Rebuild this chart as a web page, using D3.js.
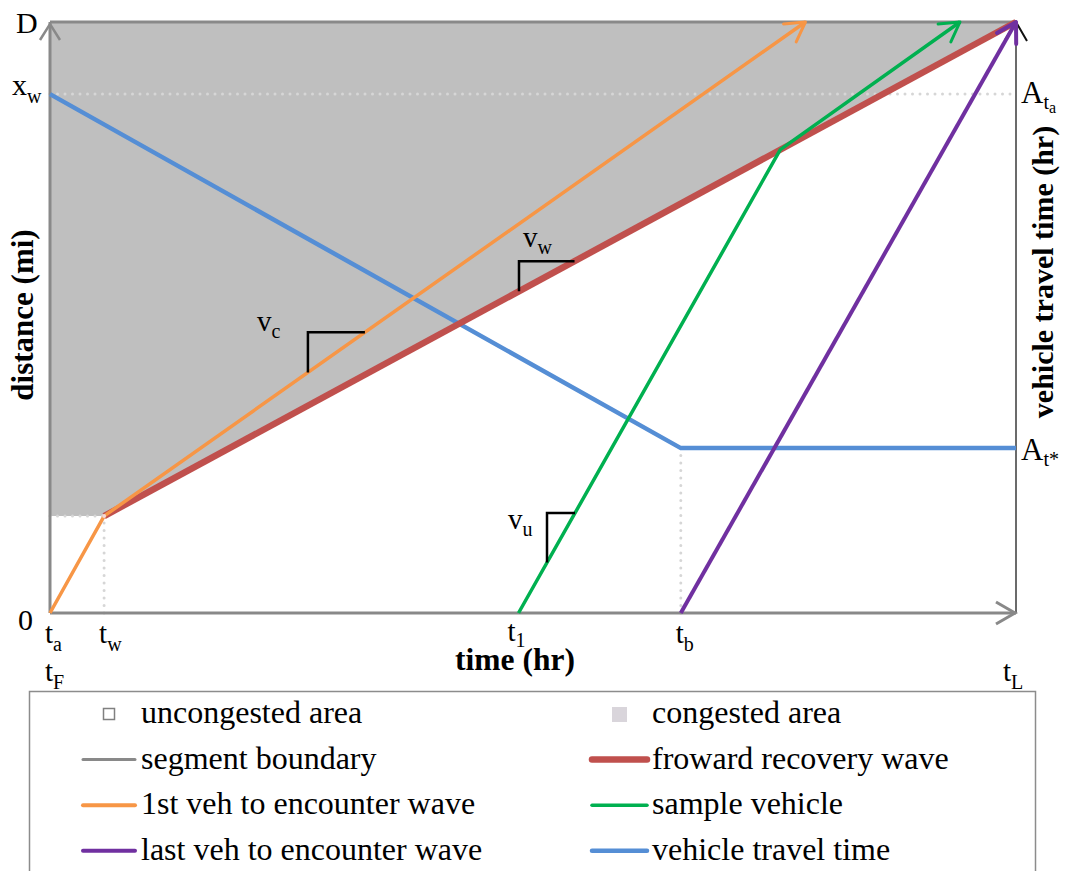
<!DOCTYPE html>
<html><head><meta charset="utf-8">
<script src="https://cdn.jsdelivr.net/npm/d3@7"></script>
<style>body{margin:0;background:#fff}text{font-family:"Liberation Serif","Times New Roman",serif;fill:#000}</style>
</head><body>
<svg id="c" width="1066" height="871"></svg>
<script>
// ---------- data (time in hr units, distance in mi units) ----------
const timeDomain = [0, 100];
const distDomain = [0, 100];
const timeTickNames = ["t", "t", "t", "t"];
const timeTickSubs = ["a", "w", "1", "b"];
const timeTickValues = [0, 5.6, 48.5, 65.3];
const distTickNames = ["0", "x", "D"];
const distTickSubs = ["", "w", ""];
const distTickValues = [0, 87.8, 100];
const travelTickSubs = ["ta", "t*"];
const travelTickValues = [87.8, 27.9];
const waveStart = [5.6, 16.4];
const recoveryWave = [[5.6, 16.4], [100, 100]];
const firstVehicle = [[0, 0], [5.6, 16.4], [78.2, 100]];
const sampleVehicle = [[48.5, 0], [75.6, 78.4], [94.2, 100]];
const lastVehicle = [[65.3, 0], [100, 100]];
const travelTime = [[0, 87.8], [65.3, 27.9], [100, 27.9]];
const congestedArea = [[0, 100], [100, 100], [5.6, 16.4], [0, 16.4]];
const slopeNames = ["c", "w", "u"];
const slopeStart = [26.7, 48.55, 51.45];
const slopeEnd = [32.6, 54.3, 54.35];
const legendLabels = ["uncongested area", "congested area", "segment boundary", "froward recovery wave",
  "1st veh to encounter wave", "sample vehicle", "last veh to encounter wave", "vehicle travel time"];

// ---------- styles ----------
const C = {gray:"#898989", area:"#bfbfbf", red:"#c0504d", orange:"#f79646", green:"#00b050",
  purple:"#7030a0", blue:"#558ed5", dot:"#d6d6d6"};

const svg = d3.select("#c");
const x = d3.scaleLinear().domain(timeDomain).range([50, 1016]);
const y = d3.scaleLinear().domain(distDomain).range([613, 22]);
const line = d3.line().x(d => x(d[0])).y(d => y(d[1]));

// arrow markers
const defs = svg.append("defs");
function marker(id, color, w) {
  defs.append("marker").attr("id", id).attr("markerUnits", "userSpaceOnUse")
    .attr("viewBox", "-24 -14 28 28").attr("refX", 0).attr("refY", 0)
    .attr("markerWidth", 28).attr("markerHeight", 28).attr("orient", "auto")
    .append("path").attr("d", "M-19,-11L0,0L-19,11").attr("fill", "none")
    .attr("stroke", color).attr("stroke-width", w).attr("stroke-linecap", "round").attr("stroke-linejoin", "round");
}
marker("aO", C.orange, 3); marker("aG", C.green, 3); marker("aP", C.purple, 4);

// congested area
svg.append("path").attr("d", line(congestedArea) + "Z").attr("fill", C.area);

// dotted guides
const dots = [
  [[0, distTickValues[1]], [100, distTickValues[1]]],
  [[0, waveStart[1]], waveStart],
  [[waveStart[0], 0], waveStart],
  [[travelTime[1][0], 0], travelTime[1]]
];
dots.forEach(d => svg.append("path").attr("d", line(d)).attr("fill", "none")
  .attr("stroke", C.dot).attr("stroke-width", 3).attr("stroke-linecap", "round").attr("stroke-dasharray", "0,7.5"));

// frame
const g0 = svg.append("g").attr("fill", "none");
g0.append("line").attr("x1", x(0)).attr("x2", x(100)).attr("y1", y(100)).attr("y2", y(100)).attr("stroke", C.gray).attr("stroke-width", 3);
g0.append("line").attr("x1", x(100)).attr("x2", x(100)).attr("y1", y(100)).attr("y2", y(0)).attr("stroke", "#3a3a3a").attr("stroke-width", 1.5);
g0.append("line").attr("x1", x(0)).attr("x2", x(0)).attr("y1", y(0)).attr("y2", y(100)).attr("stroke", C.gray).attr("stroke-width", 3);
g0.append("line").attr("x1", x(0)).attr("x2", x(100)).attr("y1", y(0)).attr("y2", y(0)).attr("stroke", C.gray).attr("stroke-width", 3);
// axis arrow heads
g0.append("path").attr("d", `M${x(0)-10},${y(100)+18}L${x(0)},${y(100)+2}L${x(0)+10},${y(100)+18}`).attr("stroke", C.gray).attr("stroke-width", 2.5);
g0.append("path").attr("d", `M${x(100)-20},${y(0)-11}L${x(100)-1},${y(0)}L${x(100)-20},${y(0)+11}`).attr("stroke", C.gray).attr("stroke-width", 3);
g0.append("path").attr("d", `M${x(100)-11},${y(100)+18}L${x(100)},${y(100)}L${x(100)+11},${y(100)+19}`).attr("stroke", "#111").attr("stroke-width", 2);

// series
svg.append("path").attr("d", line(travelTime)).attr("fill", "none").attr("stroke", C.blue).attr("stroke-width", 4.5);
svg.append("path").attr("d", line(recoveryWave)).attr("fill", "none").attr("stroke", C.red).attr("stroke-width", 6.5);
svg.append("path").attr("d", line(firstVehicle)).attr("fill", "none").attr("stroke", C.orange).attr("stroke-width", 3.5).attr("stroke-linejoin", "round").attr("marker-end", "url(#aO)");
svg.append("path").attr("d", line(sampleVehicle)).attr("fill", "none").attr("stroke", C.green).attr("stroke-width", 3.5).attr("stroke-linejoin", "round").attr("marker-end", "url(#aG)");
svg.append("path").attr("d", line(lastVehicle)).attr("fill", "none").attr("stroke", C.purple).attr("stroke-width", 4).attr("marker-end", "url(#aP)");
svg.append("circle").attr("cx", x(waveStart[0])).attr("cy", y(waveStart[1])).attr("r", 2).attr("fill", "#f3d9d9");

// slope triangles
function interp(poly, t) {
  for (let i = 0; i < poly.length - 1; i++) {
    const a = poly[i], b = poly[i + 1];
    if (t >= a[0] && t <= b[0]) return a[1] + (b[1] - a[1]) * (t - a[0]) / (b[0] - a[0]);
  }
  return poly[poly.length - 1][1];
}
const slopeLines = [firstVehicle, recoveryWave, sampleVehicle];
const slopeLabelDx = [-51, 4, -39];
const slopeLabelDy = [-1, -14, 16];
slopeNames.forEach((n, i) => {
  const t0 = slopeStart[i], t1 = slopeEnd[i];
  const y0 = y(interp(slopeLines[i], t0)), y1 = y(interp(slopeLines[i], t1));
  svg.append("path").attr("d", `M${x(t0)},${y0}V${y1}H${x(t1)}`).attr("fill", "none").attr("stroke", "#000").attr("stroke-width", 2.5);
  const tx = svg.append("text").attr("x", x(t0) + slopeLabelDx[i]).attr("y", y1 + slopeLabelDy[i]).attr("font-size", 29);
  tx.append("tspan").text("v");
  tx.append("tspan").attr("font-size", 20).attr("dy", 7).text(n);
});

// time ticks
timeTickNames.forEach((n, i) => {
  const tx = svg.append("text").attr("x", x(timeTickValues[i]) - (i === 2 ? 11 : 5)).attr("y", i === 2 ? 641 : 643).attr("font-size", 29);
  tx.append("tspan").text(n);
  tx.append("tspan").attr("font-size", 20).attr("dy", i === 2 ? 6 : 8).text(timeTickSubs[i]);
});
[["F", x(0) - 5], ["L", x(100) - 13]].forEach(d => {
  const tx = svg.append("text").attr("x", d[1]).attr("y", 681).attr("font-size", 29);
  tx.append("tspan").text("t");
  tx.append("tspan").attr("font-size", 20).attr("dy", 8).text(d[0]);
});
// distance ticks
const dX = [18, 12, 16];
const dDy = [17, 1, 11];
distTickNames.forEach((n, i) => {
  const tx = svg.append("text").attr("x", dX[i]).attr("y", y(distTickValues[i]) + dDy[i]).attr("font-size", 30);
  tx.append("tspan").text(n);
  if (distTickSubs[i]) tx.append("tspan").attr("font-size", 20).attr("dy", 8).text(distTickSubs[i]);
});
// right axis ticks
travelTickValues.forEach((v, i) => {
  const tx = svg.append("text").attr("x", 1021).attr("y", y(v) + (i === 0 ? 9 : 12)).attr("font-size", 31);
  tx.append("tspan").text("A");
  const s = travelTickSubs[i];
  tx.append("tspan").attr("font-size", 20).attr("dy", 6).text(s[0]);
  if (s[1] === "a") tx.append("tspan").attr("font-size", 16).attr("dy", 4).text("a");
  else tx.append("tspan").attr("font-size", 20).text(s[1]);
});

// axis titles
svg.append("text").attr("x", 515).attr("y", 670).attr("text-anchor", "middle").attr("font-size", 31.5).attr("font-weight", "bold").text("time (hr)");
svg.append("text").attr("transform", "translate(33,315) rotate(-90)").attr("text-anchor", "middle").attr("font-size", 31).attr("font-weight", "bold").text("distance (mi)");
svg.append("text").attr("transform", "translate(1053,272) rotate(-90)").attr("text-anchor", "middle").attr("font-size", 30).attr("font-weight", "bold").text("vehicle travel time (hr)");

// legend
svg.append("rect").attr("x", 29.5).attr("y", 691.5).attr("width", 1006).attr("height", 220).attr("fill", "#fff").attr("stroke", "#8c8c8c").attr("stroke-width", 1.5);
const legendKinds = ["box", "fill", "line", "line", "line", "line", "line", "line"];
const legendColors = ["#fff", "#d9d5db", C.gray, C.red, C.orange, C.green, C.purple, C.blue];
const legendWidths = [0, 0, 3, 6.5, 4, 3.5, 4, 4.5];
legendLabels.forEach((lab, i) => {
  const col = i % 2, row = Math.floor(i / 2);
  const by = 723 + row * 45.6;
  const tx0 = col === 0 ? 141 : 652;
  const lx0 = col === 0 ? 83 : 592, lx1 = col === 0 ? 135 : 647;
  if (legendKinds[i] === "box") {
    svg.append("rect").attr("x", 103.5).attr("y", by - 14.5).attr("width", 11).attr("height", 11).attr("fill", "#fff").attr("stroke", "#808080").attr("stroke-width", 1.5);
  } else if (legendKinds[i] === "fill") {
    svg.append("rect").attr("x", 612).attr("y", by - 16).attr("width", 15).attr("height", 15).attr("fill", legendColors[i]);
  } else {
    svg.append("line").attr("x1", lx0).attr("x2", lx1).attr("y1", by - 9).attr("y2", by - 9)
      .attr("stroke", legendColors[i]).attr("stroke-width", legendWidths[i]).attr("stroke-linecap", "round");
  }
  svg.append("text").attr("x", tx0).attr("y", by).attr("font-size", 32).text(lab);
});
</script>
</body></html>
